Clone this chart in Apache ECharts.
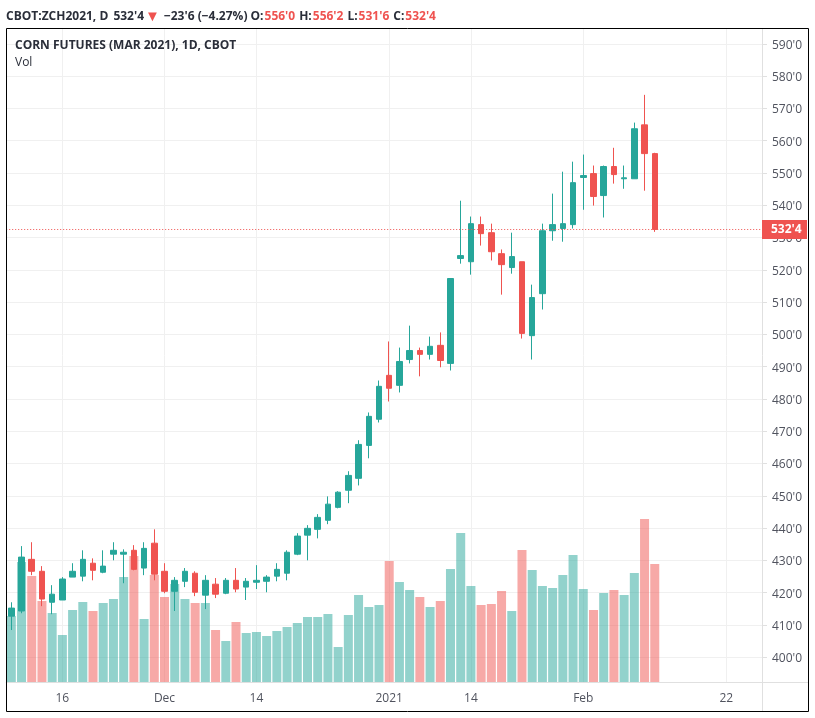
<!DOCTYPE html>
<html>
<head>
  <meta charset="utf-8">
  <title>Corn Futures (Mar 2021)</title>
  <script src="https://cdn.jsdelivr.net/npm/echarts@6/dist/echarts.min.js"></script>
  <style>
    html, body { margin: 0; padding: 0; background: #fff; }
  </style>
</head>
<body>
  <div id="main" style="width: 815px; height: 718px;"></div>

  <script>
    // trading days, then the empty days to the right of the last candle
    var dates = [
      '2020-11-09','2020-11-10','2020-11-11','2020-11-12','2020-11-13',
      '2020-11-16','2020-11-17','2020-11-18','2020-11-19','2020-11-20',
      '2020-11-23','2020-11-24','2020-11-25','2020-11-27','2020-11-30',
      '2020-12-01','2020-12-02','2020-12-03','2020-12-04',
      '2020-12-07','2020-12-08','2020-12-09','2020-12-10','2020-12-11',
      '2020-12-14','2020-12-15','2020-12-16','2020-12-17','2020-12-18',
      '2020-12-21','2020-12-22','2020-12-23','2020-12-24',
      '2020-12-28','2020-12-29','2020-12-30','2020-12-31',
      '2021-01-04','2021-01-05','2021-01-06','2021-01-07','2021-01-08',
      '2021-01-11','2021-01-12','2021-01-13','2021-01-14','2021-01-15',
      '2021-01-19','2021-01-20','2021-01-21','2021-01-22',
      '2021-01-25','2021-01-26','2021-01-27','2021-01-28','2021-01-29',
      '2021-02-01','2021-02-02','2021-02-03','2021-02-04','2021-02-05',
      '2021-02-08','2021-02-09','2021-02-10','2021-02-11','2021-02-12',
      '2021-02-16','2021-02-17','2021-02-18','2021-02-19',
      '2021-02-22','2021-02-23','2021-02-24','2021-02-25'
    ];

    var opens = [412.7,414.3,430.3,426.6,417.0,417.7,424.8,425.1,429.1,426.3,431.9,431.9,433.1,427.6,435.3,426.6,
      420.4,423.5,426.0,419.2,422.6,419.8,423.8,421.7,423.2,423.5,425.1,426.0,431.9,437.8,439.6,442.4,
      446.4,451.7,455.4,465.6,473.7,487.3,484.2,492.2,495.0,493.8,496.6,491.0,523.5,522.5,534.0,531.5,
      525.0,520.7,522.5,499.6,512.6,532.1,532.8,534.0,548.6,549.8,543.0,552.0,548.2,548.2,564.9,556.0];
    var closes = [415.2,431.0,426.6,418.0,419.5,424.2,426.6,430.3,426.9,428.2,433.1,432.5,427.2,433.7,425.7,420.4,
      423.8,426.6,420.1,423.8,419.5,423.8,421.1,423.5,423.8,424.8,427.2,432.5,437.5,439.9,443.3,447.4,
      451.1,456.3,465.9,474.6,483.9,483.3,491.6,495.0,493.8,496.3,491.9,517.3,524.4,534.3,531.2,525.6,
      521.6,524.1,500.3,511.4,532.1,534.0,534.3,547.0,549.2,542.7,552.0,549.5,548.5,563.7,556.0,532.5];
    var highs = [417.0,434.4,435.6,428.2,422.3,424.8,429.1,433.1,430.6,433.1,435.6,433.4,434.7,435.6,439.6,429.1,
      424.8,427.6,426.6,425.4,424.5,424.5,427.6,424.5,428.5,425.4,429.1,433.1,438.4,440.9,444.3,449.8,
      451.4,457.6,467.2,475.8,485.7,497.8,495.9,502.7,495.9,499.3,500.6,517.3,541.4,536.5,536.5,534.3,
      526.3,531.5,522.5,515.4,534.3,543.6,550.4,553.5,555.7,552.3,552.3,557.8,552.3,565.6,574.2,556.25];
    var lows = [408.4,413.6,425.4,415.8,413.3,417.7,424.8,423.5,423.8,426.0,430.0,422.9,426.9,425.4,423.8,419.8,
      414.3,421.7,418.9,414.9,418.3,419.5,420.1,417.7,421.1,420.1,423.5,423.8,431.6,430.0,436.8,441.2,
      446.1,447.7,453.2,461.6,472.7,479.2,482.0,491.0,487.0,492.2,489.8,488.8,521.9,518.5,527.5,522.9,
      512.3,518.8,498.7,492.2,507.7,529.0,528.7,532.8,538.6,539.9,536.2,546.7,545.1,548.2,544.5,531.75];
    // thousand contracts
    var volumes = [66,120,106,81,69,47,72,80,71,79,83,105,126,63,107,85,
      98,83,79,79,52,41,60,49,50,46,51,55,59,65,65,68,
      35,67,87,75,77,121,100,92,85,75,81,113,149,96,77,78,
      91,71,132,112,96,94,107,127,93,72,89,92,87,109,163,118];

    var xTickDates = ['2020-11-16','2020-12-01','2020-12-14','2021-01-04','2021-01-14','2021-02-01','2021-02-22'];
    var xTickLabels = ['16','Dec','14','2021','14','Feb','22'];
    var priceTicks = [400,410,420,430,440,450,460,470,480,490,500,510,520,530,540,550,560,570,580,590];
    var lastPrice = 532.5;
    var lastPriceLabel = "532'4";

    var UP = '#26a69a';
    var DOWN = '#ef5350';
    var UP_VOL = 'rgba(38,166,154,0.5)';
    var DOWN_VOL = 'rgba(239,83,80,0.5)';
    var GRID = '#f0f0f0';
    var AXIS = '#e0e0e0';
    var FONT = '"Open Sans", sans-serif';

    var candleData = opens.map(function (o, i) {
      return [o, closes[i], lows[i], highs[i]];
    });
    var volumeData = volumes.map(function (v, i) {
      return { value: v, itemStyle: { color: closes[i] >= opens[i] ? UP_VOL : DOWN_VOL } };
    });

    function isTick(index, value) {
      return xTickDates.indexOf(value) >= 0;
    }

    var chartDom = document.getElementById('main');
    var myChart = echarts.init(chartDom, null, { renderer: 'canvas' });

    var option = {
      animation: false,
      backgroundColor: '#fff',
      textStyle: { fontFamily: FONT },
      title: {
        left: 6,
        top: 9,
        padding: 0,
        text: "{b|CBOT:ZCH2021, D} {n|532'4}{t|▼}{n|−23'6 (−4.27%)} {b|O:}{r|556'0}{k|H:}{r|556'2}{k|L:}{r|531'6}{k|C:}{r|532'4}",
        textStyle: {
          fontSize: 12,
          rich: {
            b: { fontFamily: FONT, fontSize: 12, fontWeight: 'bold', color: '#2a2e39' },
            k: { fontFamily: FONT, fontSize: 12, fontWeight: 'bold', color: '#2a2e39', padding: [0, 0, 0, 4] },
            n: { fontFamily: FONT, fontSize: 12, color: '#2a2e39', padding: [0, 0, 0, 2] },
            t: { fontFamily: FONT, fontSize: 15, color: DOWN, padding: [0, 2, 0, 1] },
            r: { fontFamily: FONT, fontSize: 12, color: DOWN, padding: [0, 0, 0, 1] }
          }
        }
      },
      grid: { left: 6.2, top: 29, width: 755.8, height: 653, containLabel: false },
      xAxis: {
        type: 'category',
        data: dates,
        boundaryGap: true,
        axisLine: { lineStyle: { color: AXIS } },
        axisTick: { alignWithLabel: true, interval: isTick, length: 4, lineStyle: { color: AXIS } },
        splitLine: { show: true, alignWithLabel: true, interval: isTick, lineStyle: { color: GRID } },
        axisLabel: {
          interval: isTick,
          margin: 11,
          color: '#50535e',
          fontSize: 12,
          fontFamily: FONT,
          hideOverlap: false,
          formatter: function (value) {
            return xTickLabels[xTickDates.indexOf(value)];
          }
        }
      },
      yAxis: [
        {
          type: 'value',
          position: 'right',
          min: 392.3,
          max: 594.6,
          axisLine: { show: true, lineStyle: { color: AXIS } },
          axisTick: { show: true, length: 5, customValues: priceTicks, lineStyle: { color: AXIS } },
          splitLine: { show: true, lineStyle: { color: GRID } },
          axisLabel: {
            customValues: priceTicks,
            margin: 10,
            color: '#50535e',
            fontSize: 12,
            fontFamily: FONT,
            formatter: function (value) { return "{p|" + value + "'0}"; },
            rich: {
              p: { color: '#50535e', fontSize: 12, fontFamily: FONT, padding: [3, 0, 0, 0] }
            }
          }
        },
        { type: 'value', min: 0, max: 653, show: false, splitLine: { show: false } }
      ],
      series: [
        {
          name: 'Vol',
          type: 'bar',
          yAxisIndex: 1,
          barWidth: 9,
          data: volumeData,
          z: 2
        },
        {
          name: 'CORN FUTURES',
          type: 'candlestick',
          yAxisIndex: 0,
          barWidth: 6,
          data: candleData,
          z: 3,
          itemStyle: {
            color: UP, color0: DOWN,
            borderColor: UP, borderColor0: DOWN,
            borderWidth: 1
          },
          markLine: {
            silent: true,
            symbol: 'none',
            z: 10,
            lineStyle: { color: DOWN, type: [1, 2], width: 1 },
            label: {
              position: 'end',
              distance: 0,
              formatter: lastPriceLabel,
              color: '#fff',
              fontFamily: FONT,
              fontWeight: 'bold',
              fontSize: 12,
              backgroundColor: DOWN,
              padding: [2, 3, 1, 9],
              width: 33,
              height: 16,
              lineHeight: 16
            },
            data: [{ yAxis: lastPrice }]
          }
        }
      ],
      graphic: [
        // outer frame
        { type: 'rect', z: 20, shape: { x: 6.5, y: 28.5, width: 802, height: 683 },
          style: { fill: 'none', stroke: '#000', lineWidth: 1 } },
        // axis lines run on to the frame
        { type: 'line', z: 15, shape: { x1: 762.5, y1: 682, x2: 762.5, y2: 711 }, style: { stroke: AXIS } },
        { type: 'line', z: 15, shape: { x1: 762, y1: 682.5, x2: 808, y2: 682.5 }, style: { stroke: AXIS } },
        { type: 'text', z: 20, x: 15, y: 40, style: { text: 'CORN FUTURES (MAR 2021), 1D, CBOT', fill: '#2a2e39',
            font: 'bold 12px ' + FONT } },
        { type: 'text', z: 20, x: 15, y: 57, style: { text: 'Vol', fill: '#2a2e39', font: '12px ' + FONT } }
      ]
    };

    myChart.setOption(option);
  </script>
</body>
</html>
